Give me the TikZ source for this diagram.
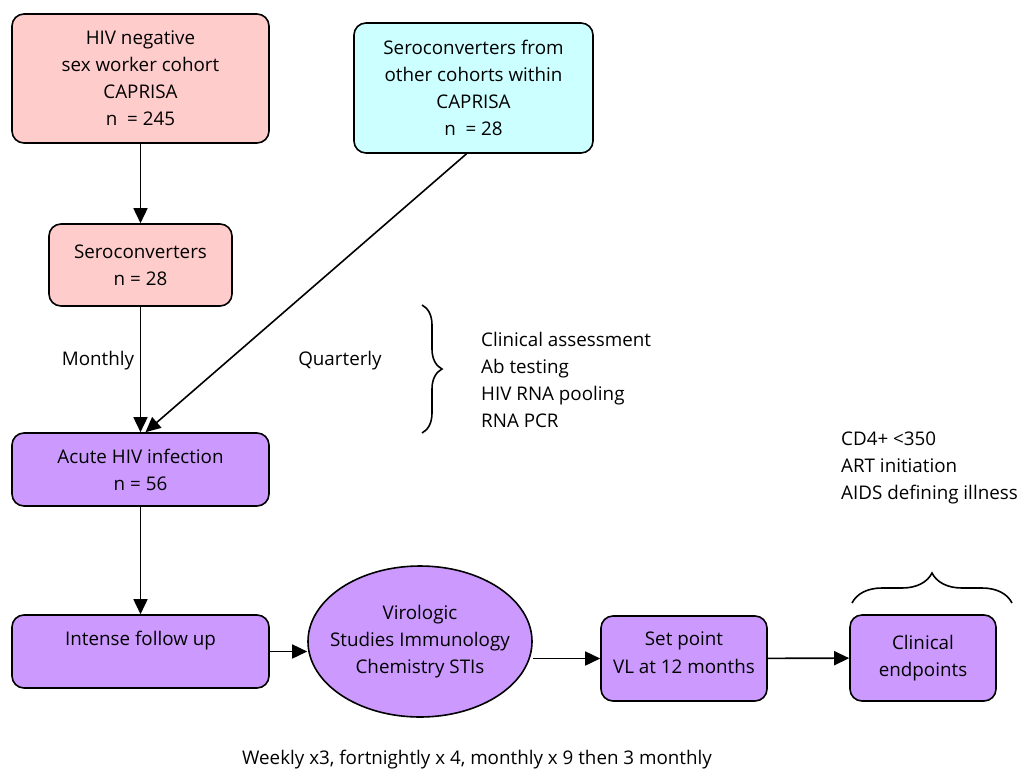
\documentclass[tikz,border=0pt]{standalone}
\usepackage{fontspec}
\setmainfont{Open Sans}
\usetikzlibrary{arrows.meta,decorations.pathreplacing,shapes.geometric}
\definecolor{pinkfill}{HTML}{FFCCCC}
\definecolor{cyanfill}{HTML}{CCFFFF}
\definecolor{lilacfill}{HTML}{CC99FF}

\begin{document}
\begin{tikzpicture}[x=1pt,y=-1pt,
    every node/.style={font=\fontsize{18.8}{27}\selectfont},
    box/.style={draw,line width=1.6pt,rounded corners=12pt,align=center,inner sep=0pt},
    arr/.style={line width=1.6pt,-{Triangle[length=15pt,width=14pt]}}]
  \useasboundingbox (0,0) rectangle (1024,771);

  \node[box,fill=pinkfill,minimum width=257pt,minimum height=129pt] (hivneg) at (140.5,78.5)
    {HIV negative\\sex worker cohort\\CAPRISA\\n~ = 245};
  \node[box,fill=cyanfill,minimum width=239pt,minimum height=130pt] (others) at (473.5,88)
    {Seroconverters from\\other cohorts within\\CAPRISA\\n~ = 28};
  \node[box,fill=pinkfill,minimum width=183pt,minimum height=82pt] (sero) at (140.5,265)
    {Seroconverters\\n = 28};
  \node[box,fill=lilacfill,minimum width=257pt,minimum height=73pt] (acute) at (140.5,469.5)
    {Acute HIV infection\\n = 56};
  \node[box,fill=lilacfill,minimum width=257pt,minimum height=73pt] (follow) at (140.5,651.5)
    {Intense follow up\\ ~};
  \node[draw,ellipse,line width=1.6pt,fill=lilacfill,align=center,inner ysep=0pt,inner xsep=-12pt,
    minimum width=224pt,minimum height=151pt] (studies) at (420,641.5)
    {Virologic\\Studies Immunology\\Chemistry STIs};
  \node[box,fill=lilacfill,minimum width=166pt,minimum height=85pt] (setpt) at (684,658.5)
    {\raisebox{12pt}{\shortstack{Set point\\[6pt]VL at 12 months}}};
  \node[box,fill=lilacfill,minimum width=146pt,minimum height=86pt] (endpts) at (923,658)
    {Clinical\\endpoints};

  \node (monthly) at (98,361) {Monthly};
  \node (quarterly) at (340,361) {Quarterly};

  \draw[arr] (hivneg) -- (sero);
  \draw[arr] (sero) -- (acute);
  \draw[arr] ([xshift=-7pt]others.south) -- ([xshift=5pt]acute.north);
  \draw[arr] (acute) -- (follow);
  \draw[arr] (follow.east) -- (follow.east -| studies.west);
  \draw[arr] (setpt.west -| studies.east) -- (setpt.west);
  \draw[arr] (setpt) -- (endpts);

  \draw[line width=1.6pt,decorate,decoration={brace,amplitude=20pt}] (422,305) -- (422,433);
  \node[anchor=west,align=left,inner sep=0pt] (tests) at (481,380)
    {Clinical assessment\\Ab testing\\HIV RNA pooling\\RNA PCR};
  \draw[line width=1.6pt,decorate,decoration={brace,amplitude=30pt}] (852,603) -- (1012,603);
  \node[anchor=west,align=left,inner sep=0pt] (outcomes) at (841,467.5)
    {CD4+ <350\\ART initiation\\AIDS defining illness};
  \node (schedule) at (477,760) {Weekly x3, fortnightly x 4, monthly x 9 then 3 monthly};
\end{tikzpicture}
\end{document}
